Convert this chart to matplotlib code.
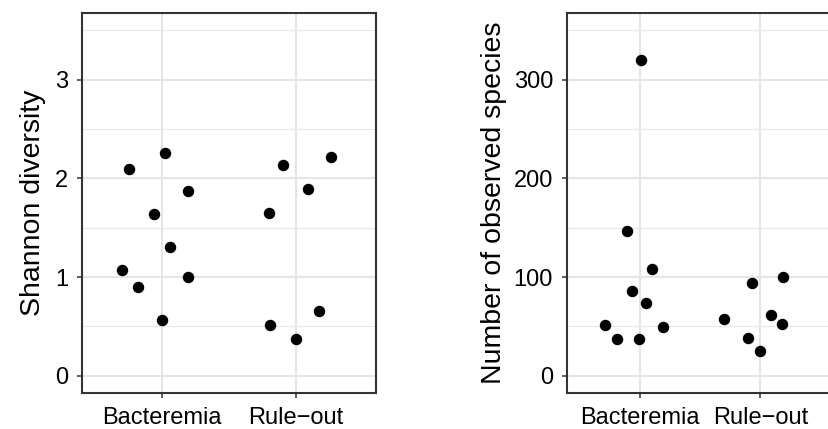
import matplotlib
matplotlib.use("Agg")
import matplotlib.pyplot as plt
from matplotlib.ticker import MultipleLocator

plt.rcParams['font.family'] = ['Liberation Sans', 'DejaVu Sans']

categories = ["Bacteremia", "Rule\u2212out"]

# Shannon diversity (left panel)
shannon_bact = [2.09, 2.26, 1.87, 1.64, 1.30, 1.07, 0.90, 1.00, 0.56]
shannon_bact_jit = [-0.246, 0.02, 0.19, -0.06, 0.055, -0.30, -0.18, 0.19, -0.005]
shannon_rule = [1.65, 2.13, 1.89, 2.22, 0.51, 0.37, 0.66]
shannon_rule_jit = [-0.20, -0.095, 0.09, 0.26, -0.19, 0.0, 0.17]

# Observed species (right panel)
obs_bact = [320, 147, 108, 86, 74, 51, 37, 37, 49]
obs_bact_jit = [0.008, -0.105, 0.105, -0.06, 0.05, -0.283, -0.184, -0.002, 0.19]
obs_rule = [57, 38, 25, 94, 62, 52, 100]
obs_rule_jit = [-0.30, -0.105, 0.0, -0.07, 0.085, 0.18, 0.19]

W, H = 829, 429
fig = plt.figure(figsize=(W / 100, H / 100), dpi=100)

def make_ax(left_px, right_px, top_px, bottom_px):
    return fig.add_axes([left_px / W, 1 - bottom_px / H,
                         (right_px - left_px) / W, (bottom_px - top_px) / H])

ax1 = make_ax(82, 376, 13, 393)
ax2 = make_ax(567, 833, 13, 393)

def style(ax, ymax, major, ylabel, labelpad):
    ax.set_xlim(0.4, 2.6)
    ax.set_ylim(-0.05 * ymax, 1.05 * ymax)
    ax.set_xticks([1, 2])
    ax.set_xticklabels(categories)
    ax.yaxis.set_major_locator(MultipleLocator(major))
    ax.yaxis.set_minor_locator(MultipleLocator(major / 2))
    ax.grid(True, which='major', color='#E5E5E5', linewidth=1.5, zorder=0)
    ax.grid(True, which='minor', axis='y', color='#E8E8E8', linewidth=0.9, zorder=0)
    ax.set_axisbelow(True)
    for s in ax.spines.values():
        s.set_color('#333333')
        s.set_linewidth(1.5)
    ax.tick_params(which='major', length=3.6, width=1.1, color='#333333',
                   labelsize=17, labelcolor='black')
    ax.tick_params(axis='y', pad=6.5)
    ax.tick_params(axis='x', pad=6.5)
    ax.tick_params(which='minor', length=0)
    ax.set_ylabel(ylabel, fontsize=20.5, labelpad=labelpad)

def ytickfmt(ax):
    ax.set_yticklabels([f"{int(t)}" for t in ax.get_yticks()])

style(ax1, 3.5, 1, "Shannon diversity", 6.5)
ax1.set_yticks([0, 1, 2, 3])
ytickfmt(ax1)
ax1.scatter([1 + j for j in shannon_bact_jit], shannon_bact, s=68, color='black', zorder=3, linewidths=0)
ax1.scatter([2 + j for j in shannon_rule_jit], shannon_rule, s=68, color='black', zorder=3, linewidths=0)

style(ax2, 350, 100, "Number of observed species", 5)
ax2.set_yticks([0, 100, 200, 300])
ytickfmt(ax2)
ax2.scatter([1 + j for j in obs_bact_jit], obs_bact, s=68, color='black', zorder=3, linewidths=0)
ax2.scatter([2 + j for j in obs_rule_jit], obs_rule, s=68, color='black', zorder=3, linewidths=0)

fig.savefig("out.png", dpi=100)
